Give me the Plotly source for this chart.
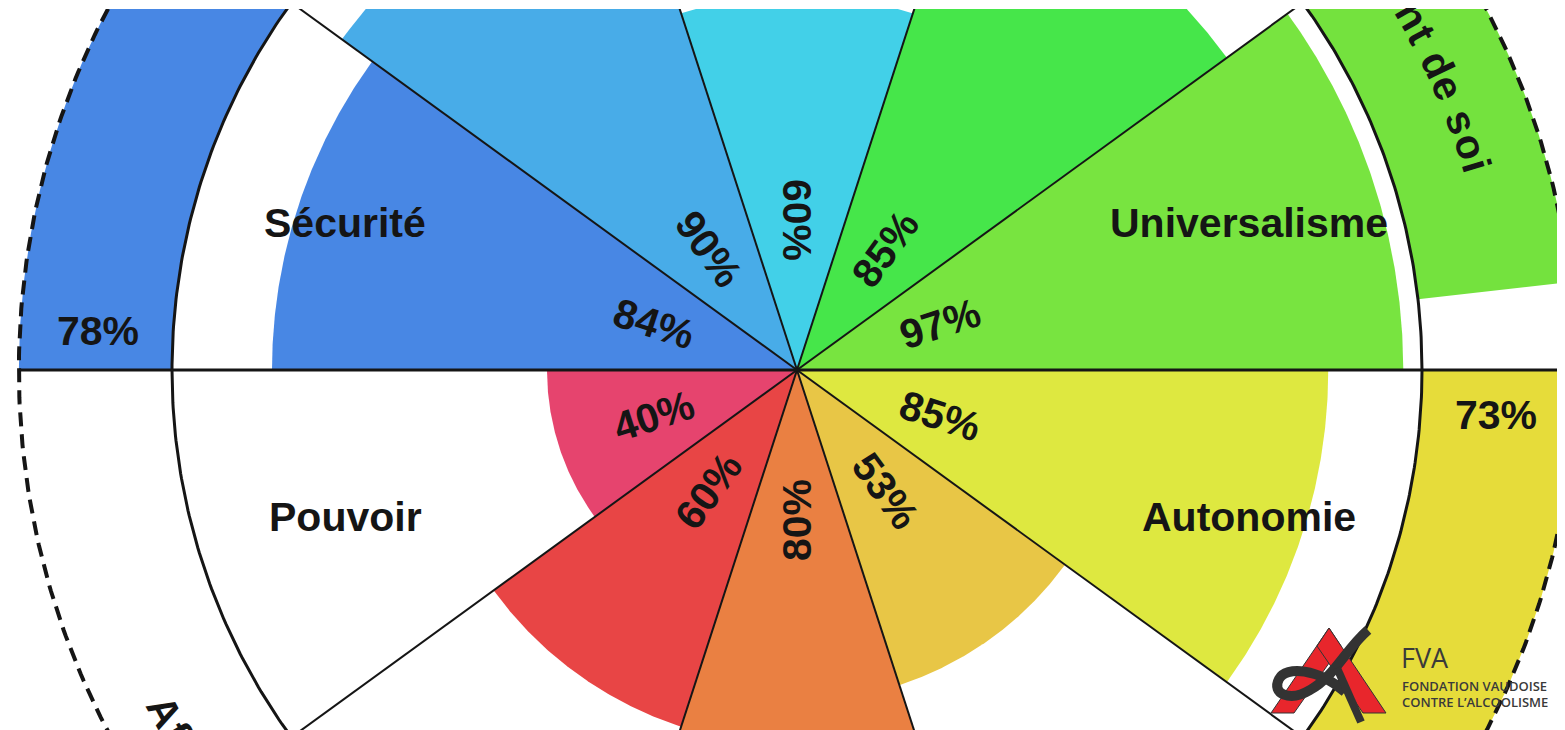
import numpy as np
import plotly.graph_objects as go

# ---------------- data ----------------
values = ["Universalisme", "Bienveillance", "Tradition", "Conformité", "Sécurité",
          "Pouvoir", "Réussite", "Hédonisme", "Stimulation", "Autonomie"]
scores = [97, 85, 60, 90, 84, 40, 60, 80, 53, 85]
value_colors = ["#78e440", "#46e64a", "#42d0e8", "#48ace8", "#4887e4",
                "#e6446e", "#e84545", "#ea8042", "#e8c646", "#dee840"]

groups = ["Dépassement de soi", "Continuité", "Affirmation de soi", "Ouverture au changement"]
group_first = [0, 2, 5, 7]
group_last = [1, 4, 6, 9]
group_scores = [None, 78, None, 73]
group_colors = ["#74e23e", "#4887e4", "#ffffff", "#e6dc3a"]

# ---------------- view / style ----------------
W, H = 1565, 730           # figure size
OFF = 8                    # page offset of the figure (default body margin)
TOP = 9                    # page y where the drawing starts
CX, CY = 797, 370          # page position of the centre
S = 625.0                  # pixels per 100 %
R_IN, R_OUT = 1.0, 1.245
R_PCT, R_NAME, R_RING_TXT = 0.24, 0.76, 1.12
FONT = "Liberation Sans, Arial, sans-serif"
TXT = "#151515"
FS = 41
group_start_gap = [6.5, 0, 0, 0]
n = len(values)
step = 360.0 / n


def wedge(t0, t1, r0, r1, npts=160):
    t = np.radians(np.linspace(t0, t1, npts))
    xo, yo = r1 * np.cos(t), r1 * np.sin(t)
    if r0 == 0:
        return np.r_[0, xo, 0], np.r_[0, yo, 0]
    xi, yi = r0 * np.cos(t[::-1]), r0 * np.sin(t[::-1])
    return np.r_[xo, xi, xo[:1]], np.r_[yo, yi, yo[:1]]


def norm(a):
    a = (a + 180) % 360 - 180
    return 180 if a == -180 else a


fig = go.Figure()

# outer ring (higher-order values)
for g, name in enumerate(groups):
    t0 = group_first[g] * step + group_start_gap[g]
    t1 = (group_last[g] + 1) * step
    x, y = wedge(t0, t1, R_IN, R_OUT)
    fig.add_trace(go.Scatter(x=x, y=y, mode="lines", fill="toself",
                             fillcolor=group_colors[g], line=dict(width=0),
                             hoverinfo="skip", name=name))

# inner wedges
for k, (name, v) in enumerate(zip(values, scores)):
    x, y = wedge(k * step, (k + 1) * step, 0, v / 100.0)
    fig.add_trace(go.Scatter(x=x, y=y, mode="lines", fill="toself",
                             fillcolor=value_colors[k], line=dict(width=0),
                             hoverinfo="skip", name=name))

# radial separators
xs, ys, xh, yh = [], [], [], []
for k in range(n):
    a = k * step
    if a % 180 == 0:
        xh += [0, R_OUT * np.cos(np.radians(a)), None]
        yh += [0, R_OUT * np.sin(np.radians(a)), None]
    else:
        xs += [0, R_IN * np.cos(np.radians(a)), None]
        ys += [0, R_IN * np.sin(np.radians(a)), None]
fig.add_trace(go.Scatter(x=xs, y=ys, mode="lines", line=dict(color="#151515", width=2),
                         hoverinfo="skip"))
fig.add_trace(go.Scatter(x=xh, y=yh, mode="lines", line=dict(color="#151515", width=3),
                         hoverinfo="skip"))

# circles
tt = np.radians(np.linspace(0, 360, 721))
fig.add_trace(go.Scatter(x=R_IN * np.cos(tt), y=R_IN * np.sin(tt), mode="lines",
                         line=dict(color="#151515", width=3), hoverinfo="skip"))
fig.add_trace(go.Scatter(x=R_OUT * np.cos(tt), y=R_OUT * np.sin(tt), mode="lines",
                         line=dict(color="#151515", width=4, dash="14px,8px"),
                         hoverinfo="skip"))

ann = []
# value names and percentages
for k, (name, v) in enumerate(zip(values, scores)):
    th = k * step + step / 2
    c, s = np.cos(np.radians(th)), np.sin(np.radians(th))
    ann.append(dict(x=R_NAME * c, y=R_NAME * s, text="<b>%s</b>" % name, showarrow=False,
                    font=dict(family=FONT, size=FS, color=TXT),
                    xanchor="center", yanchor="middle"))
    reading = th + 180 if 90 <= th <= 270 else th
    ann.append(dict(x=R_PCT * c, y=R_PCT * s, text="<b>%d%%</b>" % v, showarrow=False,
                    textangle=norm(-reading),
                    font=dict(family=FONT, size=FS, color=TXT),
                    xanchor="center", yanchor="middle"))

# outer ring percentages (near the horizontal axis)
pct_angle = [None, 176.8, None, -3.7]
for g, p in enumerate(group_scores):
    if p is None:
        continue
    th = np.radians(pct_angle[g])
    ann.append(dict(x=R_RING_TXT * np.cos(th), y=R_RING_TXT * np.sin(th),
                    text="<b>%d%%</b>" % p, showarrow=False,
                    font=dict(family=FONT, size=FS, color=TXT),
                    xanchor="center", yanchor="middle"))

# curved ring names
CHAR_W = {"D": .722, "é": .556, "p": .611, "a": .556, "s": .556, "e": .556, "m": .889,
          "n": .611, "t": .333, " ": .278, "d": .611, "o": .611, "i": .278, "A": .722,
          "f": .333, "r": .389, "u": .611, "c": .556, "h": .611, "g": .611, "C": .722,
          "O": .778, "v": .556}
TRACK = 1.08


def char_deg(ch, r):
    return np.degrees(CHAR_W.get(ch, .6) * FS * TRACK / (r * S))


def arc_text(text, start, direction, r):
    th = start
    for ch in text:
        d = char_deg(ch, r)
        mid = th + direction * d / 2
        if ch.strip():
            ta = 90 - mid if direction < 0 else -(mid + 90)
            ann.append(dict(x=r * np.cos(np.radians(mid)), y=r * np.sin(np.radians(mid)),
                            text="<b>%s</b>" % ch, showarrow=False, textangle=norm(ta),
                            font=dict(family=FONT, size=FS, color=TXT),
                            xanchor="center", yanchor="middle"))
        th += direction * d


r_dep, r_aff = 1.135, 1.15
arc_text(groups[0], 16.3 + sum(char_deg(c, r_dep) for c in groups[0]), -1, r_dep)  # clockwise
arc_text(groups[2], 207.1, +1, r_aff)                                              # counter-clockwise


# ---------------- logo (decoration), given in page pixels ----------------
def px(x):
    return (x - OFF) / W


def py(y):
    return (H + OFF - y) / (H - (TOP - OFF))


def path(pts, close=True):
    s = "M " + " L ".join("%.5f,%.5f" % (px(a), py(b)) for a, b in pts)
    return s + (" Z" if close else "")


shapes = []
red = "#e8262c"
dark = "#333333"
shapes.append(dict(type="path", xref="paper", yref="paper",
                   path=path([(1271, 713), (1329, 628), (1341, 646), (1294, 713)]),
                   fillcolor=red, line=dict(color=dark, width=1), layer="above"))
shapes.append(dict(type="path", xref="paper", yref="paper",
                   path=path([(1329, 628), (1386, 713), (1363, 713), (1317, 646)]),
                   fillcolor=red, line=dict(color=dark, width=1), layer="above"))
swoosh = ("M %.5f,%.5f C %.5f,%.5f %.5f,%.5f %.5f,%.5f C %.5f,%.5f %.5f,%.5f %.5f,%.5f "
          "C %.5f,%.5f %.5f,%.5f %.5f,%.5f"
          % (px(1368), py(630), px(1345), py(650), px(1335), py(676), px(1310), py(690),
             px(1290), py(702), px(1271), py(694), px(1279), py(679),
             px(1286), py(666), px(1318), py(668), px(1345), py(692)))
shapes.append(dict(type="path", xref="paper", yref="paper", path=swoosh,
                   line=dict(color=dark, width=10), layer="above"))
shapes.append(dict(type="line", xref="paper", yref="paper", x0=px(1337), y0=py(668),
                   x1=px(1361), y1=py(722), line=dict(color=dark, width=8), layer="above"))

logo_font = "Open Sans, Noto Sans, sans-serif"
ann.append(dict(xref="paper", yref="paper", x=px(1399), y=py(657), text="FVA", showarrow=False,
                xanchor="left", yanchor="middle",
                font=dict(family=logo_font, size=27, color="#3a3a3a")))
ann.append(dict(xref="paper", yref="paper", x=px(1400), y=py(686), text="FONDATION VAUDOISE",
                showarrow=False, xanchor="left", yanchor="middle",
                font=dict(family=logo_font, size=13, color="#3a3a3a", weight=600)))
ann.append(dict(xref="paper", yref="paper", x=px(1400), y=py(702), text="CONTRE L’ALCOOLISME",
                showarrow=False, xanchor="left", yanchor="middle",
                font=dict(family=logo_font, size=13, color="#3a3a3a", weight=600)))

fig.update_layout(
    width=W, height=H, margin=dict(l=0, r=0, t=TOP - OFF, b=0, pad=0),
    xaxis=dict(range=[(OFF - CX) / S, (W + OFF - CX) / S], visible=False, fixedrange=True),
    yaxis=dict(range=[(CY - H - OFF) / S, (CY - TOP) / S], visible=False, fixedrange=True),
    plot_bgcolor="white", paper_bgcolor="white", showlegend=False, hovermode=False,
    annotations=ann, shapes=shapes,
)

fig.write_html("out.html")
